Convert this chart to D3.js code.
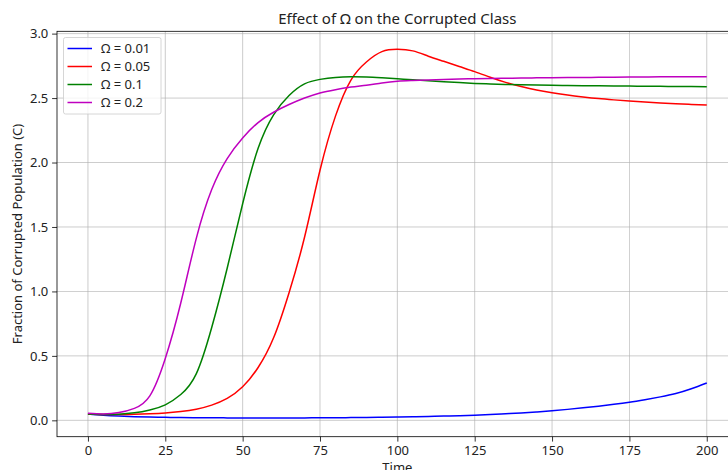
<!DOCTYPE html>
<html lang="en">
<head>
    <meta charset="UTF-8" />
    <title>Effect of Omega on the Corrupted Class</title>
    <style>
        body, html {
            margin: 0;
            padding: 0;
            background-color: white;
        }
        svg {
            display: block;
            font-family: "Noto Sans", "Open Sans", sans-serif;
            fill: #000;
        }
        .grid line {
            stroke: #b0b0b0;
            stroke-width: 0.8;
            opacity: 0.8;
        }
    </style>
</head>
<body>
    <svg id="svg" width="728" height="470"></svg>
    <script src="https://cdn.jsdelivr.net/npm/d3@7"></script>
    <script>
        // time samples and series values
        const time = [0, 5, 10, 15, 20, 25, 30, 35, 40, 45, 50, 55, 60, 65, 70, 75, 80, 85, 90, 95, 100,
            105, 110, 115, 120, 125, 130, 135, 140, 145, 150, 155, 160, 165, 170, 175, 180, 185, 190, 195, 200];

        const omega001 = [0.05, 0.04, 0.033, 0.028, 0.025, 0.023, 0.021, 0.020, 0.020, 0.019, 0.019, 0.019, 0.019, 0.019, 0.019, 0.020, 0.020, 0.021, 0.022, 0.024, 0.026,
            0.028, 0.030, 0.033, 0.036, 0.040, 0.045, 0.051, 0.057, 0.065, 0.074, 0.085, 0.097, 0.110, 0.124, 0.140, 0.160, 0.182, 0.208, 0.245, 0.29];
        const omega005 = [0.05, 0.046, 0.045, 0.047, 0.051, 0.057, 0.068, 0.086, 0.118, 0.17, 0.26, 0.41, 0.64, 0.99, 1.42, 1.94, 2.36, 2.64, 2.78, 2.86, 2.878,
            2.866, 2.825, 2.785, 2.745, 2.705, 2.662, 2.622, 2.59, 2.563, 2.542, 2.524, 2.509, 2.496, 2.486, 2.477, 2.469, 2.462, 2.456, 2.451, 2.446];
        const omega01 = [0.05, 0.046, 0.048, 0.058, 0.08, 0.12, 0.2, 0.36, 0.72, 1.18, 1.68, 2.11, 2.37, 2.52, 2.61, 2.645, 2.66, 2.665, 2.663, 2.657, 2.65,
            2.642, 2.635, 2.627, 2.62, 2.614, 2.61, 2.606, 2.603, 2.601, 2.599, 2.597, 2.596, 2.595, 2.594, 2.593, 2.592, 2.591, 2.59, 2.589, 2.588];
        const omega02 = [0.055, 0.05, 0.06, 0.093, 0.19, 0.48, 0.91, 1.41, 1.79, 2.03, 2.19, 2.31, 2.39, 2.45, 2.50, 2.54, 2.565, 2.585, 2.60, 2.617, 2.63,
            2.636, 2.641, 2.645, 2.648, 2.65, 2.652, 2.654, 2.655, 2.657, 2.658, 2.659, 2.66, 2.661, 2.662, 2.663, 2.664, 2.665, 2.665, 2.666, 2.666];

        const seriesNames = ["Ω = 0.01", "Ω = 0.05", "Ω = 0.1", "Ω = 0.2"];
        const seriesValues = [omega001, omega005, omega01, omega02];
        const seriesColors = ["#0000ff", "#ff0000", "#008000", "#bf00bf"];

        const xTicks = [0, 25, 50, 75, 100, 125, 150, 175, 200];
        const yTicks = [0.0, 0.5, 1.0, 1.5, 2.0, 2.5, 3.0];

        // plot box (the right edge runs past the window, like the original)
        const plotLeft = 57, plotRight = 737.7, plotTop = 31.3, plotBottom = 436.7;

        const svg = d3.select("#svg");

        const xScale = d3.scaleLinear().domain([-10, 210]).range([plotLeft, plotRight]);
        const yScale = d3.scaleLinear().domain([-0.127, 3.018]).range([plotBottom, plotTop]);

        // grid
        svg.append("g").attr("class", "grid")
            .selectAll("line").data(xTicks).enter().append("line")
            .attr("x1", d => xScale(d)).attr("x2", d => xScale(d))
            .attr("y1", plotTop).attr("y2", plotBottom);
        svg.append("g").attr("class", "grid")
            .selectAll("line").data(yTicks).enter().append("line")
            .attr("x1", plotLeft).attr("x2", plotRight)
            .attr("y1", d => yScale(d)).attr("y2", d => yScale(d));

        // lines
        const line = d3.line()
            .x((d, i) => xScale(time[i]))
            .y(d => yScale(d))
            .curve(d3.curveNatural);

        const plot = svg.append("g");
        seriesValues.forEach((vals, i) => {
            plot.append("path")
                .datum(vals)
                .attr("d", line)
                .attr("fill", "none")
                .attr("stroke", seriesColors[i])
                .attr("stroke-width", 1.5);
        });

        // axes
        const xAxis = svg.append("g")
            .attr("transform", `translate(0, ${plotBottom})`)
            .call(d3.axisBottom(xScale).tickValues(xTicks).tickSize(4.9).tickPadding(4.5).tickFormat(d3.format("d")));
        const yAxis = svg.append("g")
            .attr("transform", `translate(${plotLeft}, 0)`)
            .call(d3.axisLeft(yScale).tickValues(yTicks).tickSize(4.9).tickPadding(3.8).tickFormat(d3.format(".1f")));

        [xAxis, yAxis].forEach(ax => {
            ax.select(".domain").remove();
            ax.selectAll("text").attr("font-family", "Noto Sans, Open Sans, sans-serif").attr("font-size", 13).attr("fill", "#222");
            ax.selectAll("line").attr("stroke", "#000").attr("stroke-width", 0.8);
        });

        // frame
        svg.append("rect")
            .attr("x", plotLeft).attr("y", plotTop)
            .attr("width", plotRight - plotLeft).attr("height", plotBottom - plotTop)
            .attr("fill", "none").attr("stroke", "#000").attr("stroke-width", 0.8);

        // title and axis labels
        svg.append("text")
            .attr("x", (plotLeft + plotRight) / 2).attr("y", 24)
            .attr("text-anchor", "middle").attr("font-size", 15)
            .attr("fill", "#222")
            .text("Effect of Ω on the Corrupted Class");

        svg.append("text")
            .attr("x", (plotLeft + plotRight) / 2).attr("y", 472)
            .attr("text-anchor", "middle").attr("font-size", 13)
            .attr("fill", "#222")
            .text("Time");

        svg.append("text")
            .attr("transform", `translate(22, ${(plotTop + plotBottom) / 2}) rotate(-90)`)
            .attr("text-anchor", "middle").attr("font-size", 13)
            .attr("fill", "#222")
            .text("Fraction of Corrupted Population (C)");

        // legend
        const legend = svg.append("g");
        legend.append("rect")
            .attr("x", 63.5).attr("y", 37.5).attr("width", 97.5).attr("height", 76.5)
            .attr("rx", 2).attr("fill", "white").attr("fill-opacity", 0.8)
            .attr("stroke", "#cccccc").attr("stroke-width", 0.8);

        seriesNames.forEach((name, i) => {
            const y = 48.5 + i * 18;
            legend.append("line")
                .attr("x1", 67.5).attr("x2", 92)
                .attr("y1", y).attr("y2", y)
                .attr("stroke", seriesColors[i]).attr("stroke-width", 1.5);
            legend.append("text")
                .attr("x", 101).attr("y", y + 4.6)
                .attr("font-size", 13)
                .attr("fill", "#222")
                .text(name);
        });
    </script>
</body>
</html>
